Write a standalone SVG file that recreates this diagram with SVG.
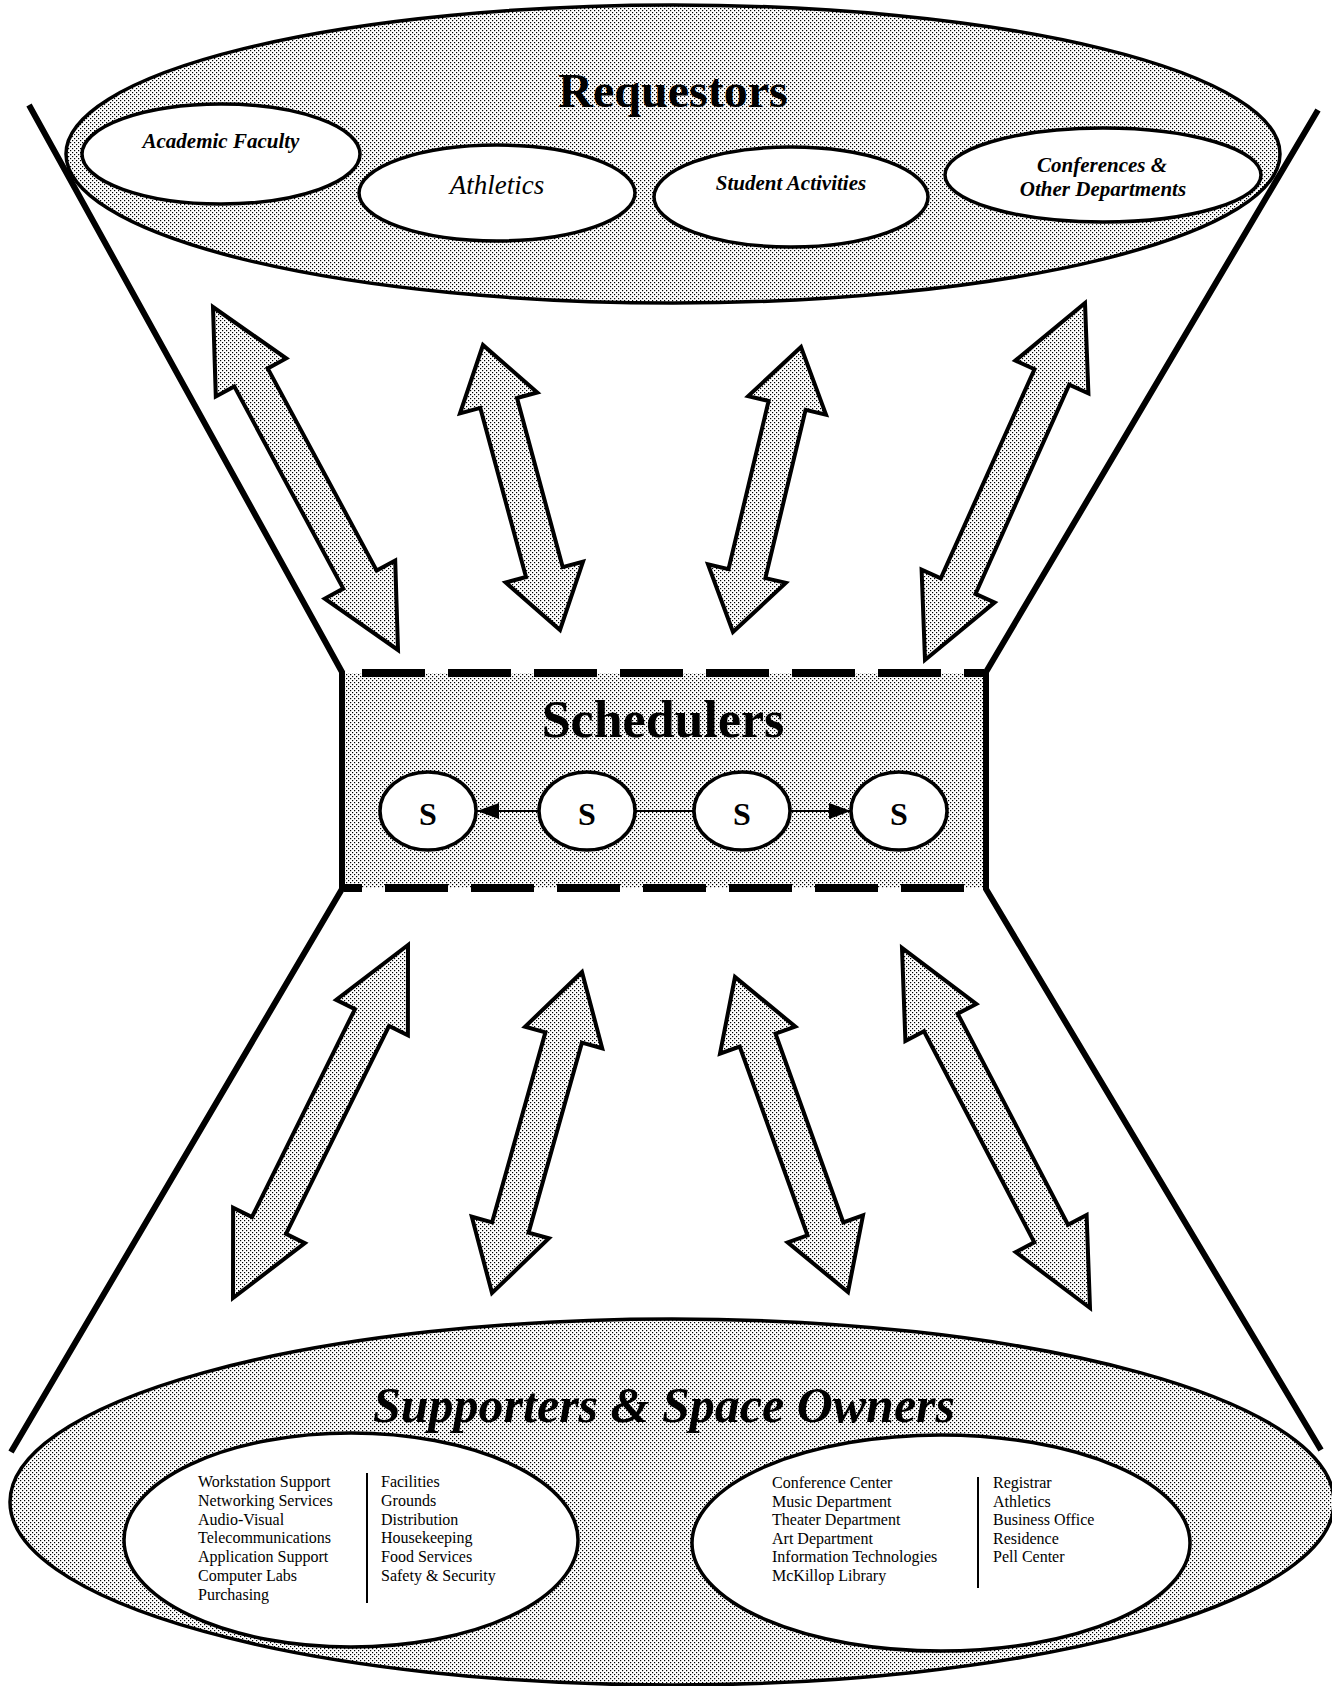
<svg xmlns="http://www.w3.org/2000/svg" width="1332" height="1686" viewBox="0 0 1332 1686">
  <defs>
    <!-- halftone screen used for every shaded area -->
    <pattern id="dots" width="4" height="4" patternUnits="userSpaceOnUse">
      <rect width="4" height="4" fill="#ffffff"/>
      <rect x="0" y="0" width="1.2" height="1.2" fill="#000"/>
      <rect x="2" y="2" width="1.2" height="1.2" fill="#000"/>
    </pattern>
    <marker id="head" viewBox="0 0 22 16" refX="22" refY="8" markerWidth="22" markerHeight="16" markerUnits="userSpaceOnUse" orient="auto">
      <path d="M0,0 L22,8 L0,16 Z" fill="#000"/>
    </marker>
    <style>
      .shade { fill: url(#dots); stroke: #000; stroke-width: 3.5; }
      .blank { fill: #fff; stroke: #000; stroke-width: 3.5; }
      .funnel { fill: none; stroke: #000; stroke-width: 6; stroke-linejoin: miter; }
      .dash { fill: none; stroke: #000; stroke-width: 8; stroke-dasharray: 63 23; }
      .big { fill: url(#dots); stroke: #000; stroke-width: 4; stroke-linejoin: miter; }
      .link { fill: none; stroke: #000; stroke-width: 2; }
      .serif { font-family: "Liberation Serif", "Times New Roman", serif; fill: #000; }
      .title { font-weight: bold; text-anchor: middle; }
      .req { font-weight: bold; font-style: italic; font-size: 21px; text-anchor: middle; }
      .list { font-size: 16px; }
    </style>
  </defs>

  <rect width="1332" height="1686" fill="#fff"/>

  <!-- Requestors -->
  <g id="requestors">
    <ellipse class="shade" cx="673" cy="154" rx="607" ry="149"/>
    <text class="serif title" x="673" y="107" font-size="48">Requestors</text>
  </g>
  <g id="req-academic">
    <ellipse class="blank" cx="221" cy="154" rx="139" ry="50"/>
    <text class="serif req" x="221" y="148" font-size="20">Academic Faculty</text>
  </g>
  <g id="req-athletics">
    <ellipse class="blank" cx="497" cy="193" rx="138" ry="48"/>
    <text class="serif" x="497" y="194" font-size="27" font-style="italic" text-anchor="middle">Athletics</text>
  </g>
  <g id="req-student">
    <ellipse class="blank" cx="791" cy="197" rx="137" ry="50"/>
    <text class="serif req" x="791" y="190">Student Activities</text>
  </g>
  <g id="req-conferences">
    <ellipse class="blank" cx="1103" cy="175" rx="158" ry="47"/>
    <text class="serif req" x="1102" y="172">Conferences &amp;</text>
    <text class="serif req" x="1103" y="196">Other Departments</text>
  </g>

  <!-- Supporters & Space Owners -->
  <g id="supporters">
    <ellipse class="shade" cx="672" cy="1502" rx="662" ry="183"/>
    <text class="serif title" x="664" y="1422" font-size="50" font-style="italic">Supporters &amp; Space Owners</text>
  </g>
  <g id="sup-services">
    <ellipse class="blank" cx="351" cy="1540" rx="227" ry="107"/>
    <line class="link" x1="367" y1="1473" x2="367" y2="1603"/>
    <text class="serif list" x="198" y="1487">Workstation Support</text>
    <text class="serif list" x="198" y="1505.8">Networking Services</text>
    <text class="serif list" x="198" y="1524.6">Audio-Visual</text>
    <text class="serif list" x="198" y="1543.4">Telecommunications</text>
    <text class="serif list" x="198" y="1562.2">Application Support</text>
    <text class="serif list" x="198" y="1581">Computer Labs</text>
    <text class="serif list" x="198" y="1599.8">Purchasing</text>
    <text class="serif list" x="381" y="1487">Facilities</text>
    <text class="serif list" x="381" y="1505.8">Grounds</text>
    <text class="serif list" x="381" y="1524.6">Distribution</text>
    <text class="serif list" x="381" y="1543.4">Housekeeping</text>
    <text class="serif list" x="381" y="1562.2">Food Services</text>
    <text class="serif list" x="381" y="1581">Safety &amp; Security</text>
  </g>
  <g id="sup-spaces">
    <ellipse class="blank" cx="941" cy="1543" rx="249" ry="108"/>
    <line class="link" x1="978" y1="1477" x2="978" y2="1588"/>
    <text class="serif list" x="772" y="1488">Conference Center</text>
    <text class="serif list" x="772" y="1506.5">Music Department</text>
    <text class="serif list" x="772" y="1525">Theater Department</text>
    <text class="serif list" x="772" y="1543.5">Art Department</text>
    <text class="serif list" x="772" y="1562">Information Technologies</text>
    <text class="serif list" x="772" y="1580.5">McKillop Library</text>
    <text class="serif list" x="993" y="1488">Registrar</text>
    <text class="serif list" x="993" y="1506.5">Athletics</text>
    <text class="serif list" x="993" y="1525">Business Office</text>
    <text class="serif list" x="993" y="1543.5">Residence</text>
    <text class="serif list" x="993" y="1562">Pell Center</text>
  </g>

  <!-- Schedulers band -->
  <g id="schedulers">
    <rect x="342" y="673" width="644" height="215" fill="url(#dots)"/>
    <line class="dash" x1="362" y1="673" x2="984" y2="673"/>
    <line class="dash" x1="344" y1="888" x2="984" y2="888" stroke-dashoffset="45"/>
    <text class="serif title" x="663" y="737" font-size="52">Schedulers</text>
  </g>
  <g id="s1">
    <ellipse class="blank" cx="428" cy="811" rx="48" ry="39"/>
    <text class="serif title" x="428" y="825" font-size="32">S</text>
  </g>
  <g id="s2">
    <ellipse class="blank" cx="587" cy="811" rx="48" ry="39"/>
    <text class="serif title" x="587" y="825" font-size="32">S</text>
  </g>
  <g id="s3">
    <ellipse class="blank" cx="742" cy="811" rx="48" ry="39"/>
    <text class="serif title" x="742" y="825" font-size="32">S</text>
  </g>
  <g id="s4">
    <ellipse class="blank" cx="899" cy="811" rx="48" ry="39"/>
    <text class="serif title" x="899" y="825" font-size="32">S</text>
  </g>

  <!-- hourglass outline -->
  <g id="outline">
    <path class="funnel" d="M29,105 L342,672 L342,889 L11,1452"/>
    <path class="funnel" d="M1318,110 L986,672 L986,889 L1321,1450"/>
  </g>

  <!-- connectors -->
  <g id="connectors">
    <path class="link" d="M539,811 L477,811" marker-end="url(#head)"/>
    <path class="link" d="M635,811 L694,811"/>
    <path class="link" d="M790,811 L851,811" marker-end="url(#head)"/>

    <!-- requestors to schedulers -->
    <path class="big" d="M213,307 L215.8,396.4 L234.3,386.4 L343.3,588.6 L324.8,598.6 L398,650 L395.2,560.6 L376.7,570.6 L267.7,368.4 L286.2,358.4 Z"/>
    <path class="big" d="M483,345 L460.0,413.4 L480.3,407.9 L526.0,577.0 L505.7,582.5 L560,630 L583.0,561.7 L562.7,567.1 L517.0,398.0 L537.3,392.5 Z"/>
    <path class="big" d="M801,347 L748.2,396.1 L768.6,401.0 L728.5,569.2 L708.0,564.4 L733,632 L785.8,582.9 L765.4,578.1 L805.6,409.8 L826.0,414.6 Z"/>
    <path class="big" d="M1085,303 L1015.4,360.6 L1034.5,369.2 L940.8,578.3 L921.6,569.7 L925,660 L994.6,602.4 L975.5,593.9 L1069.2,384.7 L1088.4,393.3 Z"/>

    <!-- schedulers to supporters -->
    <path class="big" d="M408,945 L336.2,999.8 L355.0,1009.1 L252.0,1217.0 L233.1,1207.7 L233,1298 L304.8,1243.2 L286.0,1233.9 L389.0,1026.0 L407.9,1035.3 Z"/>
    <path class="big" d="M582,972 L525.1,1026.7 L545.4,1032.3 L492.1,1222.4 L471.8,1216.7 L492,1293 L548.9,1238.3 L528.6,1232.7 L581.9,1042.6 L602.2,1048.3 Z"/>
    <path class="big" d="M735,977 L720.0,1053.6 L739.7,1046.5 L807.5,1235.4 L787.7,1242.4 L848,1292 L863.0,1215.4 L843.3,1222.5 L775.5,1033.7 L795.3,1026.6 Z"/>
    <path class="big" d="M902,948 L905.4,1041.0 L924.0,1031.3 L1034.3,1242.3 L1015.7,1252.1 L1090,1308 L1086.6,1215.0 L1068.0,1224.7 L957.7,1013.7 L976.3,1004.0 Z"/>
  </g>
</svg>
